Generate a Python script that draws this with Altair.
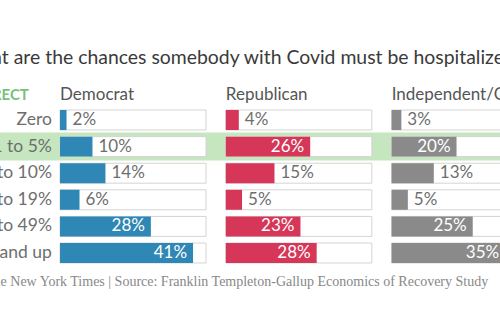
import altair as alt
import pandas as pd

categories = ["Zero", "1 to 5%", "6 to 10%", "11 to 19%", "20 to 49%", "50% and up"]
parties = ["Democrat", "Republican", "Independent/Other"]
democrat = [2, 10, 14, 6, 28, 41]
republican = [4, 26, 15, 5, 23, 28]
independent = [3, 20, 13, 5, 25, 35]
correct_category = "1 to 5%"
title_text = "What are the chances somebody with Covid must be hospitalized?"
footer_text = "The New York Times | Source: Franklin Templeton-Gallup Economics of Recovery Study"

colors = {"Democrat": "#2e87b4", "Republican": "#d63658", "Independent/Other": "#8a8a8a"}
PANEL_GAP = 51.1   # panel offset in percentage units
TRACK_MAX = 45

rows = []
for i, (party, vals) in enumerate(zip(parties, [democrat, republican, independent])):
    for cat, v in zip(categories, vals):
        rows.append({"party": party, "idx": i, "category": cat, "value": v})
df = pd.DataFrame(rows)
heads = pd.DataFrame({"party": parties, "idx": list(range(len(parties)))})
cats = pd.DataFrame({"category": categories})
hl = pd.DataFrame({"category": [correct_category], "a": [-40], "b": [160]})
one = pd.DataFrame({"k": [0]})

xs = alt.Scale(domain=[-18.5, 135.6], nice=False, zero=False)
ys = alt.Scale(domain=categories, range=[106.7, 266.3], paddingInner=0.25, paddingOuter=0.125)
Y = alt.Y("category:N", scale=ys, axis=None)

base = alt.Chart(df).transform_calculate(
    start=f"datum.idx * {PANEL_GAP}",
    end=f"datum.idx * {PANEL_GAP} + datum.value",
    tend=f"datum.idx * {PANEL_GAP} + {TRACK_MAX}",
    label="datum.value + '%'",
)

highlight = alt.Chart(hl).mark_bar(size=28, color="#c5e6be").encode(
    x=alt.X("a:Q", scale=xs, axis=None), x2="b:Q", y=Y
)
track = base.mark_bar(fill="white", stroke="#d4d4d4", strokeWidth=1).encode(
    x=alt.X("start:Q", scale=xs, axis=None), x2="tend:Q", y=Y
)
bars = base.mark_bar().encode(
    x=alt.X("start:Q", scale=xs, axis=None), x2="end:Q", y=Y,
    color=alt.Color("party:N", scale=alt.Scale(domain=parties, range=[colors[p] for p in parties]), legend=None),
)
inside = base.transform_filter("datum.value >= 20").mark_text(
    align="right", dx=-6, font="Lato", fontSize=17, color="white", baseline="middle"
).encode(x=alt.X("end:Q", scale=xs, axis=None), y=Y, text="label:N")
outside = base.transform_filter("datum.value < 20").mark_text(
    align="left", dx=6, font="Lato", fontSize=17, color="#6e6e6e", baseline="middle"
).encode(x=alt.X("end:Q", scale=xs, axis=None), y=Y, text="label:N")
rowlabels = alt.Chart(cats).transform_calculate(lx="-2.5").mark_text(
    align="right", font="Lato", fontSize=17.5, color="#6e6e6e", baseline="middle"
).encode(x=alt.X("lx:Q", scale=xs, axis=None), y=Y, text="category:N")
headers = alt.Chart(heads).transform_calculate(start=f"datum.idx * {PANEL_GAP}").mark_text(
    align="left", font="Lato", fontSize=17, color="#555555", baseline="alphabetic"
).encode(x=alt.X("start:Q", scale=xs, axis=None), y=alt.value(100), text="party:N")
correct = alt.Chart(one).transform_calculate(cx="-9.6").mark_text(
    align="right", font="Lato", fontSize=15, fontWeight="bold", color="#79c07c", baseline="alphabetic", text="CORRECT"
).encode(x=alt.X("cx:Q", scale=xs, axis=None), y=alt.value(100))
title = alt.Chart(one).mark_text(
    align="left", font="Lato", fontSize=19.4, color="#3a3a3a", baseline="alphabetic", text=title_text
).encode(x=alt.value(-38.5), y=alt.value(64))
footer = alt.Chart(one).mark_text(
    align="left", font="Liberation Serif", fontSize=14, color="#888888", baseline="alphabetic", text=footer_text
).encode(x=alt.value(-15), y=alt.value(286))

chart = alt.layer(highlight, track, bars, inside, outside, rowlabels, headers, correct, title, footer).properties(
    width=500, height=332, padding=0, autosize=alt.AutoSizeParams(type="none"), background="white"
).configure_view(stroke=None)

chart.save("out.html", embed_options={"renderer": "svg", "actions": False})
